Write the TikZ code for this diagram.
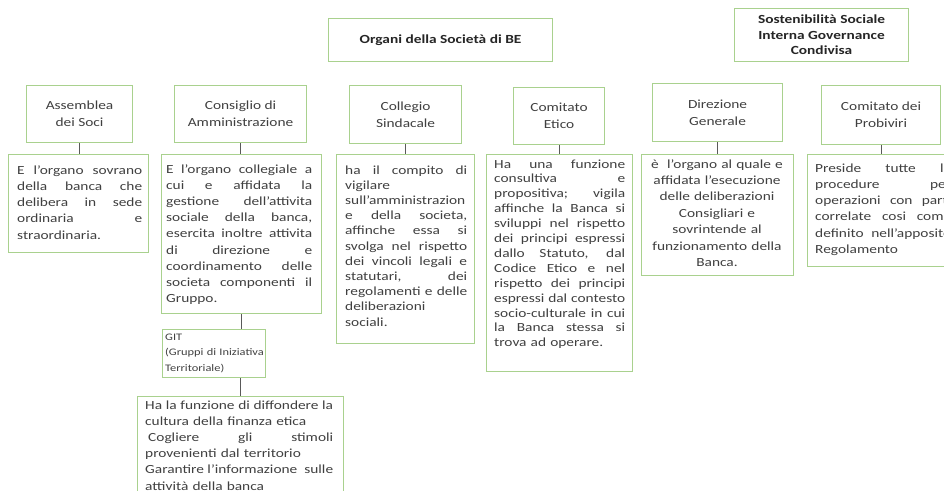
\documentclass[tikz,border=0pt]{standalone}
\usepackage{fontspec}
\setmainfont{Carlito}[FakeStretch=1.24]
\definecolor{boxgreen}{HTML}{A9D18E}
\definecolor{txtgray}{HTML}{404040}
\definecolor{titleink}{HTML}{262626}
\definecolor{linegray}{HTML}{595959}
\tikzset{
  frame/.style={draw=boxgreen, line width=1.1pt, fill=white, inner sep=0pt, anchor=north west},
  hdr/.style={frame, align=center, text=txtgray, font=\fontsize{12.4}{16.7}\selectfont},
  ttl/.style={frame, align=center, text=titleink, font=\fontsize{12.4}{15.5}\selectfont\bfseries},
  body/.style={inner sep=0pt, anchor=base west, text=txtgray},
  link/.style={draw=linegray, line width=0.9pt},
}
% one justified line: the word spaces share the slack of the full column width
\newcommand\jl[1]{\hbox to \hsize{\spaceskip=0.226em plus 1fil\relax #1}\par}
\newcommand\fs[1]{\fontsize{12.4}{#1}\selectfont}
\begin{document}
\begin{tikzpicture}[x=1pt, y=-1pt]
\useasboundingbox (0,0) rectangle (944,490);
\clip (0,0) rectangle (944,490);

% titles
\node[ttl, minimum width=224pt, minimum height=43pt] (organi) at (328,18) {Organi della Società di BE};
\node[ttl, minimum width=174pt, minimum height=53pt] (sost) at (734,8) {Sostenibilità Sociale\\Interna Governance\\Condivisa};

% organ headers
\node[hdr, minimum width=106pt, minimum height=57pt] (h-ass) at (26,85) {Assemblea\\dei Soci};
\node[hdr, minimum width=132pt, minimum height=57pt] (h-cda) at (174,85) {Consiglio di\\Amministrazione};
\node[hdr, minimum width=112pt, minimum height=58pt] (h-col) at (349,85) {Collegio\\Sindacale};
\node[hdr, minimum width=91pt, minimum height=57pt] (h-eti) at (513,87) {Comitato\\Etico};
\node[hdr, minimum width=130pt, minimum height=58pt] (h-dir) at (652,83) {Direzione\\Generale};
\node[hdr, minimum width=119pt, minimum height=59pt] (h-pro) at (821,85) {Comitato dei\\Probiviri};

% description frames
\node[frame, minimum width=140pt, minimum height=98pt] (b-ass) at (8,154) {};
\node[frame, minimum width=160pt, minimum height=159pt] (b-cda) at (161,154) {};
\node[frame, minimum width=138pt, minimum height=189pt] (b-col) at (336,154) {};
\node[frame, minimum width=146pt, minimum height=217pt] (b-eti) at (486,154) {};
\node[frame, minimum width=152pt, minimum height=121pt] (b-dir) at (641,154) {};
\node[frame, minimum width=155pt, minimum height=112pt] (b-pro) at (807,154) {};
\node[frame, minimum width=103pt, minimum height=48pt] (git) at (162,329) {};
\node[frame, minimum width=206pt, minimum height=110pt] (b-git) at (137,396) {};

% connectors
\draw[link] (h-ass.south) -- (h-ass.south |- b-ass.north);
\draw[link] (h-cda.south) -- (h-cda.south |- b-cda.north);
\draw[link] (h-col.south) -- (h-col.south |- b-col.north);
\draw[link] (h-eti.south) -- (h-eti.south |- b-eti.north);
\draw[link] (h-dir.south) -- (h-dir.south |- b-dir.north);
\draw[link] (h-pro.south) -- (h-pro.south |- b-pro.north);
\draw[link] (b-cda.south) -- (b-cda.south |- git.north);
\draw[link] (b-git.north |- git.south) -- (b-git.north);

% descriptions
\node[body, text width=125pt, font=\fs{16.3}] (x-ass) at (17,174) {%
\jl{E l’organo sovrano}
\jl{della banca che}
\jl{delibera in sede}
\jl{ordinaria e}
straordinaria.\par};

\node[body, text width=146pt, font=\fs{16.2}] (x-cda) at (166,173) {%
\jl{E l’organo collegiale a}
\jl{cui e affidata la}
\jl{gestione dell’attivita}
\jl{sociale della banca,}
\jl{esercita inoltre attivita}
\jl{di direzione e}
\jl{coordinamento delle}
\jl{societa componenti il}
Gruppo.\par};

\node[body, text width=122pt, font=\fs{15.2}] (x-col) at (345,174) {%
\jl{ha il compito di}
vigilare\par
\jl{sull’amministrazion}
\jl{e della societa,}
\jl{affinche essa si}
\jl{svolga nel rispetto}
\jl{dei vincoli legali e}
\jl{statutari, dei}
\jl{regolamenti e delle}
deliberazioni\par
sociali.\par};

\node[body, text width=131pt, font=\fs{14.9}] (x-eti) at (494,168) {%
\jl{Ha una funzione}
\jl{consultiva e}
\jl{propositiva; vigila}
\jl{affinche la Banca si}
\jl{sviluppi nel rispetto}
\jl{dei principi espressi}
\jl{dallo Statuto, dal}
\jl{Codice Etico e nel}
\jl{rispetto dei principi}
\jl{espressi dal contesto}
\jl{socio-culturale in cui}
\jl{la Banca stessa si}
trova ad operare.\par};

\node[body, anchor=base, text width=150pt, align=center, font=\fs{16.4}] (x-dir) at (717,168) {%
è\ \ l’organo al quale e\\
affidata l’esecuzione\\
delle deliberazioni\\
Consigliari e\\
sovrintende al\\
funzionamento della\\
Banca.};

\node[body, text width=136pt, font=\fs{16.3}] (x-pro) at (815,172) {%
\jl{Preside tutte le}
\jl{procedure per}
\jl{operazioni con parti}
\jl{correlate cosi come}
\jl{definito nell’apposito}
Regolamento\par};

\node[body, text width=100pt, font=\fontsize{10}{15.8}\selectfont] (x-git) at (165,340) {%
GIT\par
(Gruppi di Iniziativa\par
Territoriale)\par};

\node[body, text width=188pt, font=\fs{16.2}] (x-gitd) at (145,409) {%
\jl{Ha la funzione di diffondere la}
cultura della finanza etica\par
\jl{\kern3pt Cogliere gli stimoli}
provenienti dal territorio\par
\jl{Garantire\kern3.5pt l’informazione sulle}
attività della banca\par};
\end{tikzpicture}
\end{document}
